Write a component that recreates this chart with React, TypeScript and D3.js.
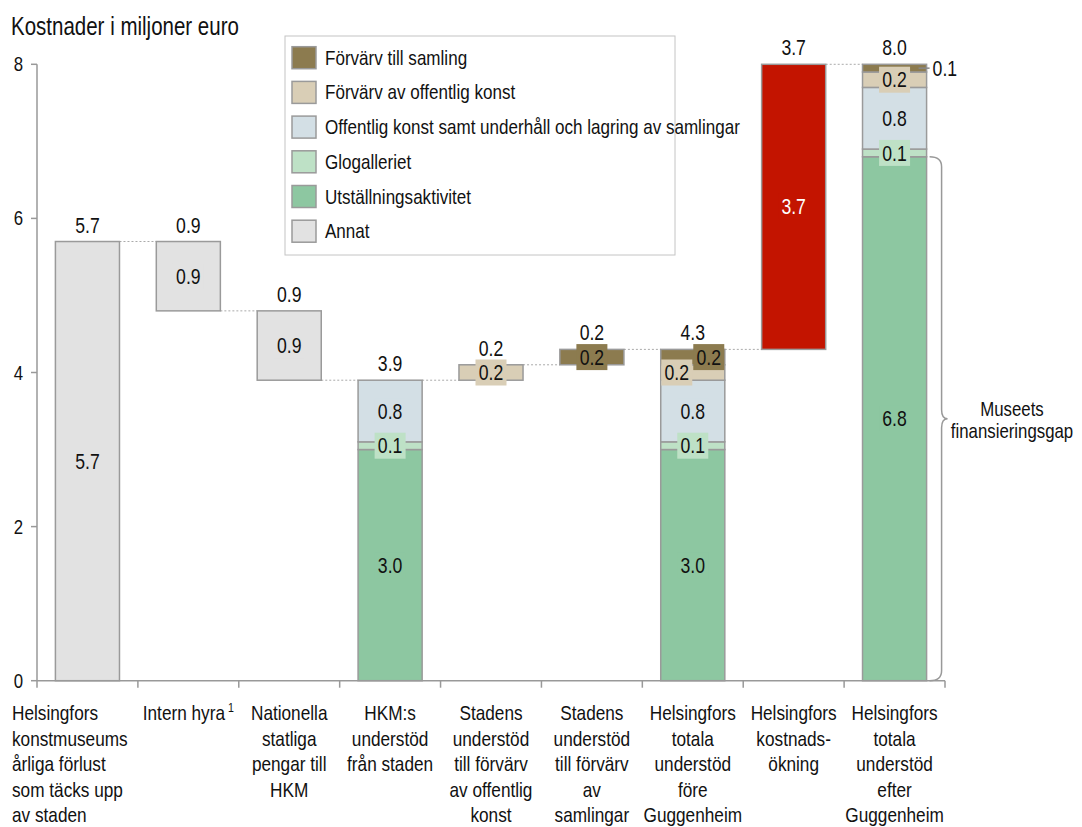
import React, { useEffect, useRef } from 'react';
import * as d3 from 'd3';

// category labels (one entry per line)
const categories: string[][] = [
  ['Helsingfors', 'konstmuseums', 'årliga förlust', 'som täcks upp', 'av staden'],
  ['Intern hyra'],
  ['Nationella', 'statliga', 'pengar till', 'HKM'],
  ['HKM:s', 'understöd', 'från staden'],
  ['Stadens', 'understöd', 'till förvärv', 'av offentlig', 'konst'],
  ['Stadens', 'understöd', 'till förvärv', 'av', 'samlingar'],
  ['Helsingfors', 'totala', 'understöd', 'före', 'Guggenheim'],
  ['Helsingfors', 'kostnads-', 'ökning'],
  ['Helsingfors', 'totala', 'understöd', 'efter', 'Guggenheim'],
];

// floating start of each bar (waterfall)
const baseValues = [0, 4.8, 3.9, 0, 3.9, 4.1, 0, 4.3, 0];

// series, bottom to top
const utstallning = [0, 0, 0, 3.0, 0, 0, 3.0, 0, 6.8];
const glogalleriet = [0, 0, 0, 0.1, 0, 0, 0.1, 0, 0.1];
const offentligKonst = [0, 0, 0, 0.8, 0, 0, 0.8, 0, 0.8];
const forvarvOffentlig = [0, 0, 0, 0, 0.2, 0, 0.2, 0, 0.2];
const forvarvSamling = [0, 0, 0, 0, 0, 0.2, 0.2, 0, 0.1];
const annat = [5.7, 0.9, 0.9, 0, 0, 0, 0, 0, 0];
const kostnadsokning = [0, 0, 0, 0, 0, 0, 0, 3.7, 0];

// dotted connector levels between bar i and i+1
const connectorLevels = [5.7, 4.8, 3.9, 3.9, 4.1, 4.3, 4.3, 8.0];

const yTicks = [0, 2, 4, 6, 8];
const gapStart = 0;
const gapEnd = 6.8;

const series = [
  { key: 'utst', name: 'Utställningsaktivitet', values: utstallning, color: '#8DC7A1', text: '#111' },
  { key: 'glo', name: 'Glogalleriet', values: glogalleriet, color: '#BEE1C6', text: '#111' },
  { key: 'off', name: 'Offentlig konst samt underhåll och lagring av samlingar', values: offentligKonst, color: '#D3DFE5', text: '#111' },
  { key: 'fof', name: 'Förvärv av offentlig konst', values: forvarvOffentlig, color: '#D9CEB6', text: '#111' },
  { key: 'fsa', name: 'Förvärv till samling', values: forvarvSamling, color: '#8C7B4F', text: '#111' },
  { key: 'ann', name: 'Annat', values: annat, color: '#E2E2E2', text: '#111' },
  { key: 'kost', name: 'Helsingfors kostnadsökning', values: kostnadsokning, color: '#C31400', text: '#fff' },
];

const legendOrder = ['fsa', 'fof', 'off', 'glo', 'utst', 'ann'];

// Arial-like font squeezed horizontally to look like Arial Narrow
const FONT = '"Liberation Sans", Arial, sans-serif';
const SX = 0.82;

type Sel = d3.Selection<any, any, any, any>;

// text at (x, y) drawn with the narrow squeeze
function ntext(parent: Sel, x: number, y: number, size: number, anchor = 'start') {
  return parent.append('text')
    .attr('transform', `scale(${SX},1)`)
    .attr('x', x / SX).attr('y', y)
    .attr('text-anchor', anchor)
    .attr('font-family', FONT).attr('font-size', size).attr('fill', '#111');
}

const App: React.FC = () => {
  const svgRef = useRef<SVGSVGElement>(null);

  useEffect(() => {
    if (!svgRef.current) return;
    const svg = d3.select(svgRef.current);
    svg.selectAll('*').remove();

    const x = d3.scaleBand<number>().domain(d3.range(categories.length)).range([37, 945]);
    const y = d3.scaleLinear().domain([0, 8]).range([680.7, 64.3]);
    const bw = x.bandwidth() * 0.635;
    const bx = (i: number) => (x(i) || 0) + (x.bandwidth() - bw) / 2;
    const cx = (i: number) => (x(i) || 0) + x.bandwidth() / 2;

    // title
    ntext(svg, 11, 35, 25).text('Kostnader i miljoner euro');

    // y axis
    svg.append('line')
      .attr('x1', 37).attr('x2', 37).attr('y1', y(8)).attr('y2', y(0))
      .attr('stroke', '#999').attr('stroke-width', 1.5);
    yTicks.forEach((t) => {
      svg.append('line')
        .attr('x1', 31).attr('x2', 37).attr('y1', y(t)).attr('y2', y(t))
        .attr('stroke', '#999').attr('stroke-width', 1.5);
      ntext(svg, 23, y(t), 20.5, 'end').attr('dominant-baseline', 'central').text(String(t));
    });

    // x axis
    svg.append('line')
      .attr('x1', 37).attr('x2', 945).attr('y1', y(0)).attr('y2', y(0))
      .attr('stroke', '#999').attr('stroke-width', 1.5);
    const bounds = d3.range(categories.length + 1).map((i) => 37 + i * x.bandwidth());
    svg.selectAll('.xtick').data(bounds).enter().append('line')
      .attr('x1', (d) => d).attr('x2', (d) => d)
      .attr('y1', y(0)).attr('y2', y(0) + 7)
      .attr('stroke', '#999').attr('stroke-width', 1.5);

    // build segments
    type Seg = { i: number; s: typeof series[number]; y0: number; y1: number; v: number };
    const segs: Seg[] = [];
    const totals: number[] = [];
    categories.forEach((_, i) => {
      let acc = baseValues[i];
      let total = 0;
      series.forEach((s) => {
        const v = s.values[i];
        if (v > 0) {
          segs.push({ i, s, y0: acc, y1: acc + v, v });
          acc += v;
          total += v;
        }
      });
      totals.push(total);
    });

    // connectors
    svg.selectAll('.conn').data(connectorLevels).enter().append('line')
      .attr('x1', (_, i) => bx(i) + bw).attr('x2', (_, i) => bx(i + 1))
      .attr('y1', (d) => y(d)).attr('y2', (d) => y(d))
      .attr('stroke', '#aaa').attr('stroke-width', 1).attr('stroke-dasharray', '2,2');

    // bars
    svg.selectAll('.seg').data(segs).enter().append('rect')
      .attr('x', (d) => bx(d.i)).attr('width', bw)
      .attr('y', (d) => y(d.y1)).attr('height', (d) => y(d.y0) - y(d.y1))
      .attr('fill', (d) => d.s.color)
      .attr('stroke', '#9a9a9a').attr('stroke-width', 1.5);

    // inside labels
    const dxFor = (d: Seg) => {
      if (d.i === 6 && d.s.key === 'fof') return -16;
      if (d.i === 6 && d.s.key === 'fsa') return 16;
      return 0;
    };
    const outside = (d: Seg) => d.i === 8 && d.s.key === 'fsa';
    segs.filter((d) => !outside(d)).forEach((d) => {
      const lx = cx(d.i) + dxFor(d);
      const ly = (y(d.y0) + y(d.y1)) / 2;
      svg.append('rect')
        .attr('x', lx - 15.5).attr('y', ly - 13).attr('width', 31).attr('height', 26)
        .attr('fill', d.s.color);
      ntext(svg, lx, ly, 21.5, 'middle')
        .attr('dominant-baseline', 'central')
        .attr('fill', d.s.text)
        .text(d.v.toFixed(1));
    });

    // outside label with leader
    segs.filter(outside).forEach((d) => {
      const ym = (y(d.y0) + y(d.y1)) / 2;
      svg.append('line')
        .attr('x1', bx(d.i) + bw - 8).attr('x2', bx(d.i) + bw + 3)
        .attr('y1', ym).attr('y2', ym)
        .attr('stroke', '#888').attr('stroke-width', 1.5);
      ntext(svg, bx(d.i) + bw + 6, ym, 21.5).attr('dominant-baseline', 'central').text(d.v.toFixed(1));
    });

    // top labels
    totals.forEach((d, i) => {
      ntext(svg, cx(i), y(baseValues[i] + d) - 9, 21.5, 'middle').text(d.toFixed(1));
    });

    // category labels
    categories.forEach((lines, i) => {
      const first = i === 0;
      const px = first ? 12 : cx(i);
      const t = ntext(svg, px, 720, 21, first ? 'start' : 'middle');
      lines.forEach((ln, k) => {
        const ts = t.append('tspan')
          .attr('x', px / SX)
          .attr('y', 720 + k * 25.6)
          .text(ln);
        if (i === 1 && k === 0) {
          ts.append('tspan').attr('font-size', 13).attr('dy', -8).text(' 1');
        }
      });
    });

    // brace for financing gap
    const bxr = bx(8) + bw;
    const ya = y(gapEnd);
    const yb = y(gapStart);
    const ym = (ya + yb) / 2;
    const xa = bxr + 3;
    const xv = bxr + 15;
    const p = d3.path();
    p.moveTo(xa, ya);
    p.quadraticCurveTo(xv, ya, xv, ya + 10);
    p.lineTo(xv, ym - 9);
    p.quadraticCurveTo(xv, ym, xv + 6, ym);
    p.quadraticCurveTo(xv, ym, xv, ym + 9);
    p.lineTo(xv, yb - 10);
    p.quadraticCurveTo(xv, yb, xa, yb);
    svg.append('path').attr('d', p.toString())
      .attr('fill', 'none').attr('stroke', '#999').attr('stroke-width', 1.5);
    const gt = ntext(svg, 1012, ym, 20.5, 'middle');
    gt.append('tspan').attr('x', 1012 / SX).attr('y', ym - 3).text('Museets');
    gt.append('tspan').attr('x', 1012 / SX).attr('y', ym + 19).text('finansieringsgap');

    // legend
    const lgd = svg.append('g');
    lgd.append('rect')
      .attr('x', 285).attr('y', 36).attr('width', 390).attr('height', 219)
      .attr('fill', '#fff').attr('stroke', '#c4c4c4').attr('stroke-width', 1);
    const items = legendOrder.map((k) => series.find((s) => s.key === k)!);
    items.forEach((d, i) => {
      const ry = 46.7 + i * 34.7;
      lgd.append('rect')
        .attr('x', 292).attr('y', ry).attr('width', 24).attr('height', 22)
        .attr('fill', d.color).attr('stroke', '#9a9a9a').attr('stroke-width', 1.5);
      ntext(lgd, 325, ry + 11, 20.8).attr('dominant-baseline', 'central').text(d.name);
    });
  }, []);

  return (
    <svg
      ref={svgRef}
      width={1082}
      height={827}
      style={{ position: 'absolute', left: 0, top: 0, background: '#fff' }}
    />
  );
};

export default App;
